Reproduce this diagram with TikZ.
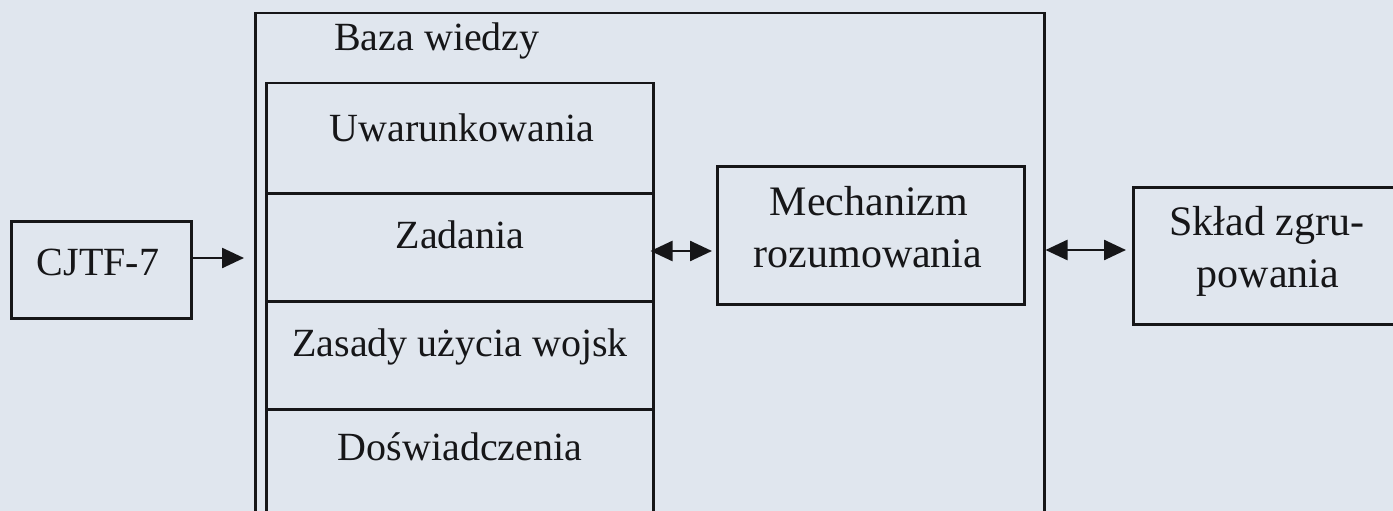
\documentclass[tikz,border=0pt]{standalone}
\usepackage{fontspec}
\setmainfont{Liberation Serif}
\usetikzlibrary{arrows.meta}
\definecolor{paper}{RGB}{224,230,238}
\definecolor{ink}{RGB}{22,22,24}
\tikzset{
  box/.style={draw=ink, line width=2.5pt, inner sep=0pt, anchor=north west},
  txt/.style={text=ink, font=\fontsize{40}{46}\selectfont, anchor=base, inner sep=0pt},
  bigtxt/.style={text=ink, font=\fontsize{42}{48}\selectfont, anchor=base, inner sep=0pt},
  tip/.tip={Triangle[length=22pt,width=20pt]},
  arr/.style={draw=ink, line width=2.5pt, -tip},
  darr/.style={draw=ink, line width=2.5pt, tip-tip}
}
\begin{document}
\begin{tikzpicture}[x=1pt,y=-1pt]
\useasboundingbox (0,0) rectangle (1393,511);
\clip (0,0) rectangle (1393,511);
\fill[paper] (0,0) rectangle (1393,511);

% knowledge base (outer)
\node[box, minimum width=789pt, minimum height=540pt] (baza) at (254,12) {};
\node[txt] (bazat) at (437,51) {Baza wiedzy};

% inner column cells
\node[box, minimum width=387pt, minimum height=110pt] (uw) at (265,82) {};
\node[box, minimum width=387pt, minimum height=108pt] (zad) at (265,192) {};
\node[box, minimum width=387pt, minimum height=108pt] (zas) at (265,300) {};
\node[box, minimum width=387pt, minimum height=140pt] (dos) at (265,408) {};
\node[txt] (uwt) at (462,141) {Uwarunkowania};
\node[txt] (zadt) at (460,248) {Zadania};
\node[txt] (zast) at (460,356) {Zasady użycia wojsk};
\node[txt] (dost) at (460,460) {Doświadczenia};

% CJTF-7
\node[box, minimum width=180pt, minimum height=97pt] (cjtf) at (10,220) {};
\node[txt] (cjtft) at (98,275) {CJTF-7};

% reasoning mechanism
\node[box, minimum width=307pt, minimum height=138pt] (mech) at (716,165) {};
\node[bigtxt] (mecht1) at (869,215) {Mechanizm};
\node[bigtxt] (mecht2) at (868,267) {rozumowania};

% group composition
\node[box, minimum width=320pt, minimum height=137pt] (sklad) at (1132,186) {};
\node[bigtxt] (skladt1) at (1267,235) {Skład zgru-};
\node[bigtxt] (skladt2) at (1268,287) {powania};

% connectors
\coordinate (y1) at (0,258);
\coordinate (y2) at (0,251);
\coordinate (y3) at (0,250);
\draw[arr] (cjtf.east |- y1) -- ([xshift=-10pt]baza.west |- y1);
\draw[darr] ([xshift=-4pt]zad.east |- y2) -- ([xshift=-4pt]mech.west |- y2);
\draw[darr] (baza.east |- y3) -- ([xshift=-6pt]sklad.west |- y3);
\end{tikzpicture}
\end{document}
